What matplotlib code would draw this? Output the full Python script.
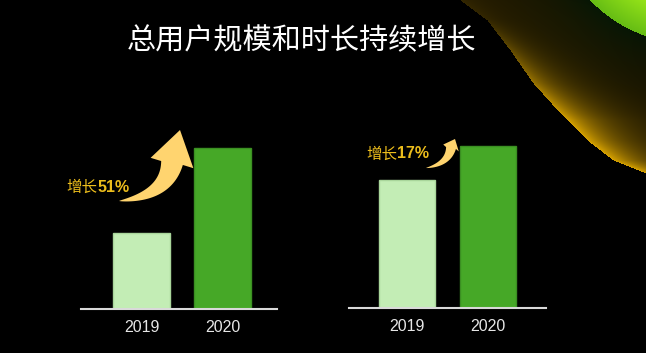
import numpy as np
import matplotlib.pyplot as plt
from matplotlib.patches import Polygon

plt.rcParams['font.family'] = ['Noto Sans CJK SC', 'DejaVu Sans']

# data (bar heights, arbitrary units)
years = ['2019', '2020']
users = [76, 161]
duration = [128, 162]
growth_labels = ['51%', '17%']

title = '总用户规模和时长持续增长'
light_green = '#c3edb5'
dark_green = '#46a827'
gold_text = '#ecbd1c'
arrow_gold = '#ffd46f'

W, H = 646, 353
fig = plt.figure(figsize=(W / 100, H / 100), dpi=100, facecolor='black')

# full-figure overlay in pixel coords (background glow, title, arrows)
bg = fig.add_axes([0, 0, 1, 1])
bg.set_xlim(0, W)
bg.set_ylim(H, 0)
bg.axis('off')

# top-right glow decoration
yy, xx = np.mgrid[0:H, 0:W].astype(float)
edge_y = [0, 20, 50, 83, 113, 140, 160, 173, 400]
edge_x = [460, 487, 510, 533, 560, 587, 613, 646, 1200]
xe = np.interp(yy, edge_y, edge_x)
inside = xx > xe
d = np.clip((xx - xe) * 0.62, 0, None)
amp = np.clip((yy - 10) / 110.0, 0.08, 1.0)
glow = amp * np.exp(-d / (8 + 12 * amp))
img = np.zeros((H, W, 3))
dg = np.hypot(xx - 690, yy + 95) - 138
greenish = np.clip(np.exp(-np.clip(dg, 0, None) / 30.0), 0, 1)
base = np.array([0.15, 0.11, 0.0])[None, None, :] * (1 - greenish[..., None]) + \
       np.array([0.04, 0.13, 0.03])[None, None, :] * greenish[..., None]
# darken base further from the edge
base = base * np.clip(1 - d / 260.0, 0.35, 1)[..., None]
yellow = np.array([0.85, 0.64, 0.0])
col = base * (1 - glow[..., None]) + yellow[None, None, :] * glow[..., None]
img[inside] = col[inside]
ing = dg < 0
depth = np.clip(-dg / 40.0, 0, 1)[..., None]
gcol = np.array([0.40, 0.74, 0.08])[None, None, :] * (1 - depth) + np.array([0.62, 0.92, 0.10])[None, None, :] * depth
img[ing] = gcol[ing]
bg.imshow(img, extent=(0, W, H, 0), interpolation='bilinear', zorder=0, aspect='auto')

bg.text(301, 41, title, color='white', fontsize=21, ha='center', va='center', zorder=5)


def curved_arrow(ax, p0, p1, p2, tip, body_w, head_w, color):
    t = np.linspace(0, 1, 60)
    p0, p1, p2, tip = map(np.array, (p0, p1, p2, tip))
    pts = ((1 - t) ** 2)[:, None] * p0 + (2 * (1 - t) * t)[:, None] * p1 + (t ** 2)[:, None] * p2
    der = (2 * (1 - t))[:, None] * (p1 - p0) + (2 * t)[:, None] * (p2 - p1)
    nrm = np.stack([-der[:, 1], der[:, 0]], axis=1)
    nrm /= np.linalg.norm(nrm, axis=1)[:, None]
    w = body_w / 2 * t ** 0.8
    side_a = pts + nrm * w[:, None]
    side_b = pts - nrm * w[:, None]
    hd = (tip - p2) / np.linalg.norm(tip - p2)
    hn = np.array([-hd[1], hd[0]])
    wing_a = p2 + hn * head_w / 2
    wing_b = p2 - hn * head_w / 2
    poly = np.vstack([side_a, wing_a, tip, wing_b, side_b[::-1]])
    ax.add_patch(Polygon(poly, closed=True, facecolor=color, edgecolor='none', zorder=4))


curved_arrow(bg, (119, 201), (166, 196), (172, 163), (180, 130), 22, 44, arrow_gold)
curved_arrow(bg, (426, 168), (448, 164), (451, 148), (455, 139), 10, 17, arrow_gold)

for xb, yc, lab in [(97.5, 187, growth_labels[0]), (397, 154, growth_labels[1])]:
    bg.text(xb, yc, '增长', color=gold_text, fontsize=11.2, ha='right', va='center', zorder=5)
    bg.text(xb, yc, lab, color=gold_text, fontsize=11.5, fontweight='bold',
            family='Liberation Sans', ha='left', va='center', zorder=5)


def bar_panel(x0, x1, base_y, xlim, vals):
    ax = fig.add_axes([x0 / W, 1 - base_y / H, (x1 - x0) / W, (base_y - 100) / H])
    ax.set_facecolor('none')
    ax.bar([0, 1], vals, width=0.7, color=[light_green, dark_green],
           edgecolor=['#a9d69b', '#3b8f22'], linewidth=1, zorder=3)
    ax.set_xlim(*xlim)
    ax.set_ylim(0, base_y - 100)
    for s in ['top', 'left', 'right']:
        ax.spines[s].set_visible(False)
    ax.spines['bottom'].set_color('#d9d9d9')
    ax.spines['bottom'].set_linewidth(1.5)
    ax.spines['bottom'].set_zorder(4)
    ax.set_yticks([])
    ax.set_xticks([0, 1])
    ax.set_xticklabels(years, family='Liberation Sans', fontsize=11.5, color='#e6e6e6')
    ax.tick_params(axis='x', length=0, pad=8)
    return ax


bar_panel(81, 277, 309, (-0.747, 1.673), users)
bar_panel(349, 546, 308, (-0.716, 1.716), duration)

fig.savefig('out.png', dpi=100, facecolor='black')
